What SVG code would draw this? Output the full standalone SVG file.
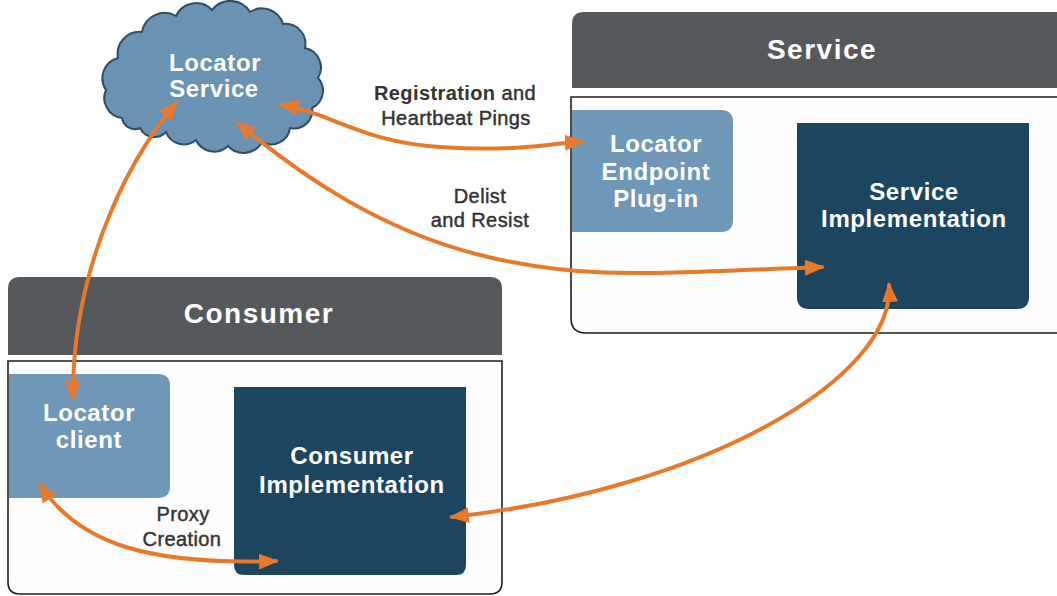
<svg xmlns="http://www.w3.org/2000/svg" width="1057" height="596" viewBox="0 0 1057 596">
<defs>
<style>
.hdr{fill:#55595c}
.body{fill:#fefefe;stroke:#1e1e1e;stroke-width:1.6}
.light{fill:#6f97b7}
.dark{fill:#1c4560}
.t{font-family:"Liberation Sans",Arial,sans-serif;font-weight:bold;fill:#ffffff;text-anchor:middle}
.big{font-size:28px;letter-spacing:1.5px}
.mid{font-size:24px;letter-spacing:0.6px}
.lbl{font-family:"Liberation Sans",Arial,sans-serif;font-size:20px;fill:#333333;stroke:#333333;stroke-width:0.45;text-anchor:middle;letter-spacing:0.4px}
.conn{fill:none;stroke:#e8782a;stroke-width:4;stroke-linecap:round;marker-start:url(#ah);marker-end:url(#ah)}
</style>
<marker id="ah" viewBox="0 0 20 16" refX="17" refY="8" markerWidth="20" markerHeight="16" markerUnits="userSpaceOnUse" orient="auto-start-reverse">
<path d="M0,0 L20,8 L0,16 Z" fill="#e8782a"/>
</marker>
</defs>
<rect width="1057" height="596" fill="#ffffff"/>

<g id="service">
<path class="hdr" d="M572 88 V24 Q572 12 584 12 H1060 V88 Z"/>
<path class="body" d="M571 97 H1062 V333 H586 Q571 333 571 318 Z"/>
<text class="t big" x="822" y="59">Service</text>
</g>

<g id="consumer">
<path class="hdr" d="M8 355 V289 Q8 277 20 277 H490 Q502 277 502 289 V355 Z"/>
<path class="body" d="M8 361 H502 V582 Q502 594 490 594 H20 Q8 594 8 582 Z"/>
<text class="t big" x="259" y="323">Consumer</text>
</g>

<g id="locator-endpoint">
<path class="light" d="M572 110 H721 Q733 110 733 122 V220 Q733 232 721 232 H572 Z"/>
<text class="t mid" x="656" y="152">Locator</text>
<text class="t mid" x="656" y="180">Endpoint</text>
<text class="t mid" x="656" y="207">Plug-in</text>
</g>

<g id="service-impl">
<path class="dark" d="M797 123 H1029 V297 Q1029 309 1017 309 H809 Q797 309 797 297 Z"/>
<text class="t mid" x="914" y="200">Service</text>
<text class="t mid" x="914" y="227">Implementation</text>
</g>

<g id="locator-client">
<path class="light" d="M9 374 H158 Q170 374 170 386 V486 Q170 498 158 498 H9 Z"/>
<text class="t mid" x="89" y="421">Locator</text>
<text class="t mid" x="89" y="448">client</text>
</g>

<g id="consumer-impl">
<path class="dark" d="M234 387 H466 V565 Q466 575 456 575 H244 Q234 575 234 565 Z"/>
<text class="t mid" x="352" y="464">Consumer</text>
<text class="t mid" x="352" y="493">Implementation</text>
</g>

<g id="locator-service">
<path fill="#6a92b2" stroke="#2f4d63" stroke-width="2" d="M122 118 A20 20 0 0 1 106 90 A21 21 0 0 1 118 58 A22 22 0 0 1 142 32 A23 23 0 0 1 176 16 A22 22 0 0 1 212 10 A23 23 0 0 1 250 12 A22 22 0 0 1 283 24 A20 20 0 0 1 305 48 A20 20 0 0 1 318 78 A19 19 0 0 1 312 108 A18 18 0 0 1 290 128 A19 19 0 0 1 262 142 A21 21 0 0 1 228 146 A20 20 0 0 1 196 140 A19 19 0 0 1 166 132 A16 16 0 0 1 140 128 A13 13 0 0 1 122 118 Z"/>
<text class="t mid" x="215" y="71">Locator</text>
<text class="t mid" x="214" y="97">Service</text>
</g>

<g id="connectors">
<path class="conn" d="M281 105 C330 112, 360 142, 440 147 S540 144, 582 142"/>
<path class="conn" d="M238 123 C300 175, 380 230, 480 255 S640 274, 822 267"/>
<path class="conn" d="M176 103 C120 170, 72 280, 73 398"/>
<path class="conn" d="M889 285 C895 380, 700 490, 452 517"/>
<path class="conn" d="M40 485 C80 545, 150 565, 276 561"/>
</g>

<g id="labels">
<text class="lbl" x="455" y="100"><tspan font-weight="bold" stroke-width="0">Registration</tspan> and</text>
<text class="lbl" x="456" y="125">Heartbeat Pings</text>
<text class="lbl" x="480" y="203">Delist</text>
<text class="lbl" x="480" y="227">and Resist</text>
<text class="lbl" x="183" y="521">Proxy</text>
<text class="lbl" x="182" y="546">Creation</text>
</g>
</svg>
